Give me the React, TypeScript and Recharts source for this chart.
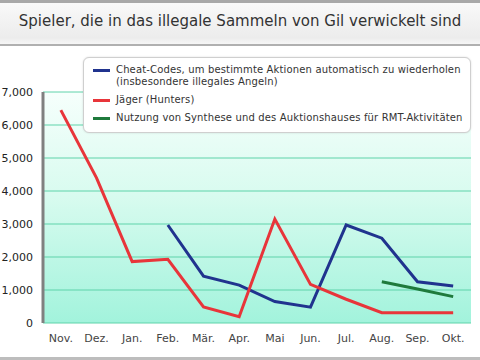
import React from "react";
import { LineChart, Line, XAxis, YAxis, CartesianGrid } from "recharts";

const months = ["Nov.", "Dez.", "Jan.", "Feb.", "Mär.", "Apr.", "Mai", "Jun.", "Jul.", "Aug.", "Sep.", "Okt."];
const cheatCodes: (number | null)[] = [null, null, null, 2970, 1420, 1150, 650, 480, 2970, 2570, 1250, 1120];
const hunters: (number | null)[] = [6450, 4400, 1860, 1930, 490, 190, 3150, 1170, 720, 310, 310, 310];
const synthese: (number | null)[] = [null, null, null, null, null, null, null, null, null, 1250, 1030, 800];
const yTicks = [0, 1000, 2000, 3000, 4000, 5000, 6000, 7000];

const seriesNames = [
  "Cheat-Codes, um bestimmte Aktionen automatisch zu wiederholen\n(insbesondere illegales Angeln)",
  "Jäger (Hunters)",
  "Nutzung von Synthese und des Auktionshauses für RMT-Aktivitäten",
];
const seriesKeys = ["cheat", "hunters", "synthese"];
const seriesColors = ["#20338e", "#e8353a", "#1f7a3c"];

const data = months.map((m, i) => ({
  idx: i,
  month: m,
  cheat: cheatCodes[i],
  hunters: hunters[i],
  synthese: synthese[i],
}));

const labelTicks = months.map((_, i) => i);
const boundaryTicks = [...months.map((_, i) => i - 0.5), months.length - 0.5];

const FONT = "'DejaVu Sans', sans-serif";

const LegendBox = () => (
  <div
    style={{
      position: "absolute",
      left: 83,
      top: 57,
      width: 388,
      height: 76,
      background: "#fff",
      border: "1px solid #cfcfcf",
      borderRadius: 6,
      boxShadow: "0 0 2px rgba(0,0,0,0.15)",
      padding: "6px 0 0 9px",
      fontFamily: FONT,
      fontSize: 10,
      letterSpacing: 0.15,
      color: "#333",
      lineHeight: "12px",
      boxSizing: "border-box",
    }}
  >
    {seriesNames.map((n, i) => (
      <div key={i} style={{ display: "flex", alignItems: "flex-start", marginBottom: 6 }}>
        <div style={{ width: 17, height: 3, background: seriesColors[i], marginTop: 5, marginRight: 6, flexShrink: 0 }} />
        <div style={{ whiteSpace: "pre" }}>{n}</div>
      </div>
    ))}
  </div>
);

export default function App() {
  return (
    <div style={{ position: "fixed", left: 0, top: 0, width: 480, height: 360, background: "#fff", overflow: "hidden" }}>
      <div
        style={{
          position: "absolute",
          left: 0,
          top: 0,
          width: 480,
          height: 46,
          borderTop: "3px solid #a8a8a8",
          borderBottom: "2px solid #b0b0b0",
          boxSizing: "border-box",
          background: "linear-gradient(#f9f9f9, #ececec 85%, #f6f6f6)",
        }}
      >
        <div
          style={{
            position: "absolute",
            left: 0,
            right: 0,
            top: 9,
            textAlign: "center",
            fontFamily: FONT,
            fontSize: 15,
            color: "#333",
          }}
        >
          Spieler, die in das illegale Sammeln von Gil verwickelt sind
        </div>
      </div>
      <div style={{ position: "absolute", left: 0, top: 357, width: 480, height: 3, background: "#bdbdbd" }} />
      <div style={{ position: "absolute", left: 0, top: 0 }}>
        <LineChart width={480} height={360} data={data} margin={{ top: 92, right: 9, bottom: 7, left: 0 }}>
          <defs>
            <linearGradient id="bgGrad" x1="0" y1="0" x2="0" y2="1">
              <stop offset="0%" stopColor="#f6fffc" />
              <stop offset="45%" stopColor="#d8fbef" />
              <stop offset="100%" stopColor="#a2f3dc" />
            </linearGradient>
          </defs>
          <CartesianGrid vertical={false} stroke="#5fd3aa" strokeWidth={1} fill="url(#bgGrad)" fillOpacity={1} />
          <XAxis
            xAxisId="labels"
            type="number"
            dataKey="idx"
            domain={[-0.5, 11.5]}
            ticks={labelTicks}
            tickFormatter={(v: number) => months[v]}
            axisLine={false}
            tickLine={false}
            height={30}
            tick={{ fontFamily: FONT, fontSize: 11, fill: "#444" }}
            tickMargin={5}
            interval={0}
          />
          <XAxis
            xAxisId="bounds"
            type="number"
            dataKey="idx"
            domain={[-0.5, 11.5]}
            ticks={boundaryTicks}
            tick={false}
            axisLine={{ stroke: "#808080", strokeWidth: 3 }}
            tickLine={{ stroke: "#808080", strokeWidth: 1.5 }}
            tickSize={4}
            height={0}
            interval={0}
          />
          <YAxis
            domain={[0, 7000]}
            ticks={yTicks}
            tickFormatter={(v: number) => v.toLocaleString("en-US")}
            axisLine={{ stroke: "#808080", strokeWidth: 3 }}
            tickLine={false}
            width={43}
            tickMargin={4}
            tick={{ fontFamily: FONT, fontSize: 11, fill: "#222" }}
          />
          {seriesKeys.map((k, i) => (
            <Line
              key={k}
              xAxisId="labels"
              name={seriesNames[i]}
              dataKey={k}
              stroke={seriesColors[i]}
              strokeWidth={3}
              dot={false}
              isAnimationActive={false}
            />
          ))}
        </LineChart>
      </div>
      <LegendBox />
    </div>
  );
}
